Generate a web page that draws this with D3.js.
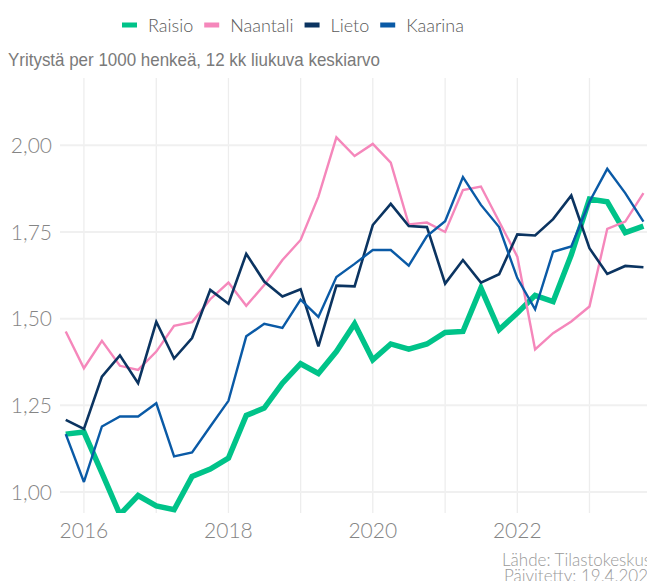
<!DOCTYPE html>
<html>
<head>
<meta charset="utf-8">
<script src="https://cdn.jsdelivr.net/npm/d3@7"></script>
<style>
  html, body { margin: 0; padding: 0; background: #fff; }
  svg { display: block; }
</style>
</head>
<body>
<div id="chart"></div>
<script>
// Yritysten määrä per 1000 asukasta, 12 kk liukuva keskiarvo, neljännesvuosittain

const quarters = [
  "2015-10", "2016-01", "2016-04", "2016-07", "2016-10",
  "2017-01", "2017-04", "2017-07", "2017-10",
  "2018-01", "2018-04", "2018-07", "2018-10",
  "2019-01", "2019-04", "2019-07", "2019-10",
  "2020-01", "2020-04", "2020-07", "2020-10",
  "2021-01", "2021-04", "2021-07", "2021-10",
  "2022-01", "2022-04", "2022-07", "2022-10",
  "2023-01", "2023-04", "2023-07", "2023-10"
];

const raisio = [
  1.167, 1.173, 1.055, 0.935, 0.990,
  0.960, 0.949, 1.045, 1.066,
  1.098, 1.221, 1.242, 1.314,
  1.370, 1.342, 1.405, 1.485,
  1.381, 1.427, 1.412, 1.427,
  1.460, 1.463, 1.588, 1.468,
  1.516, 1.567, 1.549, 1.684,
  1.845, 1.837, 1.748, 1.767
];

const naantali = [
  1.463, 1.357, 1.436, 1.364, 1.352,
  1.405, 1.479, 1.490, 1.556,
  1.604, 1.537, 1.597, 1.669,
  1.727, 1.852, 2.023, 1.969,
  2.004, 1.950, 1.772, 1.777,
  1.750, 1.871, 1.881, 1.780,
  1.679, 1.411, 1.458, 1.492,
  1.535, 1.759, 1.780, 1.862
];

const lieto = [
  1.208, 1.182, 1.333, 1.394, 1.314,
  1.491, 1.385, 1.444, 1.583,
  1.543, 1.687, 1.607, 1.564,
  1.585, 1.420, 1.595, 1.593,
  1.770, 1.831, 1.767, 1.764,
  1.601, 1.669, 1.604, 1.628,
  1.743, 1.740, 1.787, 1.855,
  1.703, 1.629, 1.652, 1.648
];

const kaarina = [
  1.167, 1.029, 1.189, 1.218, 1.218,
  1.256, 1.103, 1.114, 1.189,
  1.263, 1.449, 1.485, 1.473,
  1.555, 1.505, 1.620, 1.658,
  1.698, 1.698, 1.653, 1.738,
  1.781, 1.908, 1.828, 1.764,
  1.617, 1.527, 1.693, 1.708,
  1.837, 1.932, 1.862, 1.780
];

const seriesNames  = ["Raisio", "Naantali", "Lieto", "Kaarina"];
const seriesValues = [raisio, naantali, lieto, kaarina];
const yTicks       = [1.00, 1.25, 1.50, 1.75, 2.00];
const xTickYears   = [2016, 2018, 2020, 2022];
const gridYears    = [2016, 2017, 2018, 2019, 2020, 2021, 2022, 2023];

const subtitle = "Yritystä per 1000 henkeä, 12 kk liukuva keskiarvo";
const caption  = ["Lähde: Tilastokeskus", "Päivitetty: 19.4.2024"];

const colors = {
  Raisio:   "#00c389",
  Naantali: "#f587bb",
  Lieto:    "#0b3461",
  Kaarina:  "#0a5aa6",
};
const widths = { Raisio: 5.5, Naantali: 2.4, Lieto: 2.6, Kaarina: 2.4 };

const W = 647, H = 581;
const plot = { left: 60, right: 647, top: 78, bottom: 513 };
const uiFont = "Lato, 'Open Sans', sans-serif";

const parseQ = d3.timeParse("%Y-%m");

const x = d3.scaleTime()
  .domain([new Date(2015, 8, 2), new Date(2023, 9, 19)])
  .range([plot.left, plot.right]);

const y = d3.scaleLinear()
  .domain([0.9395, 2.194])
  .range([plot.bottom, plot.top]);

const svg = d3.select("#chart").append("svg")
  .attr("width", W)
  .attr("height", H)
  .attr("viewBox", `0 0 ${W} ${H}`);

svg.append("defs").append("clipPath").attr("id", "plotclip")
  .append("rect")
  .attr("x", plot.left).attr("y", plot.top)
  .attr("width", plot.right - plot.left)
  .attr("height", plot.bottom - plot.top);

// grid
const grid = svg.append("g");
grid.selectAll("line.v")
  .data(gridYears)
  .join("line")
  .attr("x1", d => x(new Date(d, 0, 1)))
  .attr("x2", d => x(new Date(d, 0, 1)))
  .attr("y1", plot.top)
  .attr("y2", plot.bottom)
  .attr("stroke", "#ededed")
  .attr("stroke-width", 1.3);

grid.selectAll("line.h")
  .data(yTicks)
  .join("line")
  .attr("x1", plot.left)
  .attr("x2", plot.right)
  .attr("y1", d => y(d))
  .attr("y2", d => y(d))
  .attr("stroke", "#f0f0f0")
  .attr("stroke-width", 2);

// y axis labels
const fmt = d => d3.format(".2f")(d).replace(".", ",");
svg.append("g")
  .selectAll("text")
  .data(yTicks)
  .join("text")
  .attr("x", 52)
  .attr("y", d => y(d))
  .attr("dy", "0.36em")
  .attr("text-anchor", "end")
  .attr("fill", "#858585")
  .attr("font-family", uiFont)
  .attr("font-weight", 300)
  .attr("font-size", "21px")
  .text(fmt);

// x axis labels
svg.append("g")
  .selectAll("text")
  .data(xTickYears)
  .join("text")
  .attr("x", d => x(new Date(d, 0, 1)))
  .attr("y", 538)
  .attr("text-anchor", "middle")
  .attr("fill", "#858585")
  .attr("font-family", uiFont)
  .attr("font-weight", 300)
  .attr("font-size", "21px")
  .text(d => d);

// lines
const line = d3.line()
  .x((d, i) => x(parseQ(quarters[i])))
  .y(d => y(d));

svg.append("g")
  .attr("clip-path", "url(#plotclip)")
  .selectAll("path")
  .data(seriesNames)
  .join("path")
  .attr("d", (name, i) => line(seriesValues[i]))
  .attr("fill", "none")
  .attr("stroke", d => colors[d])
  .attr("stroke-width", d => widths[d])
  .attr("stroke-linejoin", "miter")
  .attr("stroke-miterlimit", 3);

// subtitle
svg.append("text")
  .attr("x", 8)
  .attr("y", 66)
  .attr("fill", "#7a7a7a")
  .attr("font-family", "'Liberation Sans', Arial, sans-serif")
  .attr("font-size", "18.5px")
  .attr("textLength", 372)
  .attr("lengthAdjust", "spacingAndGlyphs")
  .text(subtitle);

// legend
const legend = svg.append("g");
let lx = 122;
seriesNames.forEach(name => {
  legend.append("rect")
    .attr("x", lx)
    .attr("y", 22.5)
    .attr("width", 15)
    .attr("height", 5)
    .attr("fill", colors[name]);
  const t = legend.append("text")
    .attr("x", lx + 26)
    .attr("y", 32)
    .attr("fill", "#5a5a5a")
    .attr("font-family", uiFont)
    .attr("font-weight", 300)
    .attr("font-size", "18px")
    .text(name);
  lx += 26 + t.node().getComputedTextLength() + 11;
});

// caption
svg.append("g")
  .selectAll("text")
  .data(caption)
  .join("text")
  .attr("x", (d, i) => i === 0 ? 502 : 504)
  .attr("y", (d, i) => 566 + i * 16)
  .attr("fill", "#999")
  .attr("font-family", uiFont)
  .attr("font-weight", 300)
  .attr("font-size", "17px")
  .text(d => d);
</script>
</body>
</html>
